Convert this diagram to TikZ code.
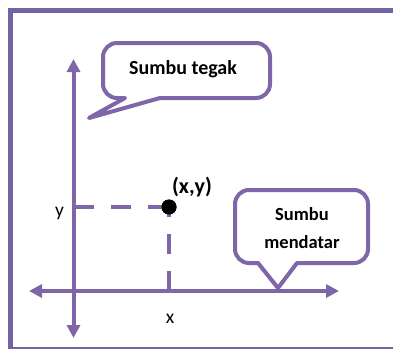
\documentclass[tikz,border=0pt]{standalone}
\usepackage{fontspec}
\setmainfont{Carlito}
\usetikzlibrary{arrows.meta}
\definecolor{axispurple}{HTML}{7E66A8}
\definecolor{framepurple}{HTML}{7562A2}
\tikzset{
  axisline/.style={draw=axispurple, line width=4pt,
    {Triangle[length=13pt,width=13pt]}-{Triangle[length=13pt,width=13pt]}},
  guide/.style={draw=axispurple, line width=4.5pt, dash pattern=on 20pt off 17pt},
  bubble/.style={draw=axispurple, line width=4pt, fill=white, line join=round},
  lbl/.style={inner sep=0pt, text=black},
}
\begin{document}
\begin{tikzpicture}[x=1pt, y=-1pt]
  \useasboundingbox (0,0) rectangle (393,348);
  \clip (0,0) rectangle (393,348);

  % outer frame
  \draw[framepurple, line width=5pt] (10.5,10.5) rectangle (430,349.5);

  % axes
  \coordinate (ytop) at (73.5,59);
  \coordinate (ybot) at (73.5,338);
  \coordinate (xleft) at (29,291);
  \coordinate (xright) at (339,291);
  \coordinate (yfoot) at (73.5,207);
  \coordinate (xfoot) at (169,291);
  \draw[axisline] (ybot) -- (ytop);
  \draw[axisline] (xleft) -- (xright);

  % point and its projections
  \node[circle, fill=black, minimum size=15pt, inner sep=0pt] (pt) at (169,207) {};
  \draw[guide] (yfoot) -- (pt.center);
  \draw[guide] (xfoot) -- (pt.center);
  \node[circle, fill=black, minimum size=15pt, inner sep=0pt] at (pt) {};

  \node[lbl, font=\bfseries\fontsize{22}{24}\selectfont] (ptlabel) at (192,187) {(x,y)};
  \node[lbl, font=\fontsize{19.5}{21}\selectfont] (ylabel) at (59.5,213) {y};
  \node[lbl, font=\fontsize{19.5}{21}\selectfont] (xlabel) at (170,319) {x};

  % callout for the vertical axis
  \draw[bubble] (160,98) [rounded corners=14pt] -- (270,98) -- (270,43) -- (103,43) -- (103,98) [sharp corners] -- (125,98) -- (89,118) -- cycle;
  \node[lbl, font=\bfseries\fontsize{20}{22}\selectfont] (tegak) at (183,69) {Sumbu tegak};

  % callout for the horizontal axis
  \draw[bubble] (297,263) [rounded corners=14pt] -- (368,263) -- (368,190) -- (235,190) -- (235,263) [sharp corners] -- (258,263) -- (278,288) -- cycle;
  \node[lbl, font=\bfseries\fontsize{18.5}{28}\selectfont, align=center] (mendatar) at (302,228) {Sumbu\\mendatar};
\end{tikzpicture}
\end{document}
